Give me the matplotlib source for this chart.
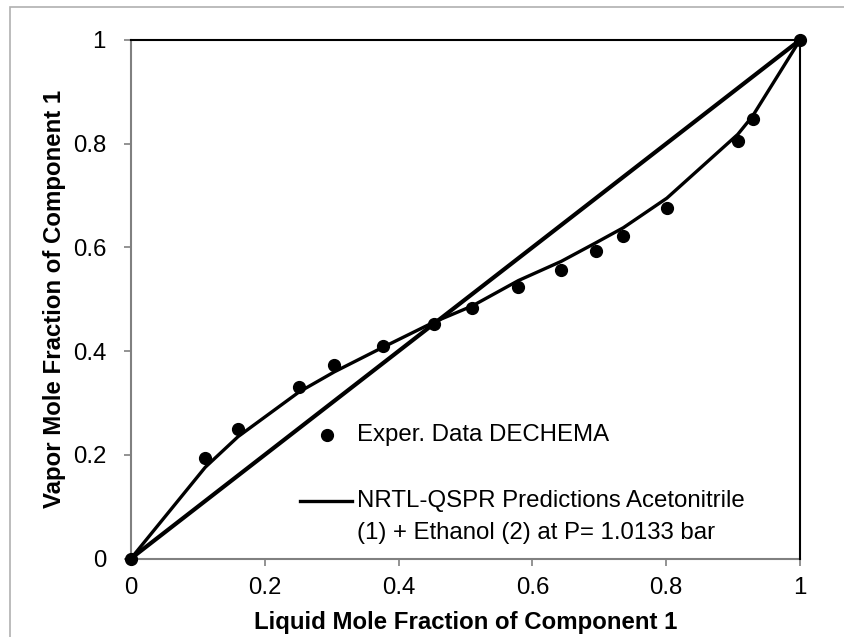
import matplotlib
matplotlib.use("Agg")
import matplotlib.pyplot as plt
from matplotlib.patches import Rectangle

plt.rcParams['font.family'] = ['Liberation Sans', 'DejaVu Sans']

# Experimental data (DECHEMA)
x_exp = [0.0, 0.111, 0.160, 0.251, 0.304, 0.376, 0.453, 0.510, 0.579, 0.643,
         0.695, 0.736, 0.801, 0.907, 0.929, 1.0]
y_exp = [0.0, 0.194, 0.250, 0.331, 0.374, 0.410, 0.452, 0.483, 0.523, 0.557,
         0.594, 0.622, 0.676, 0.805, 0.848, 1.0]

# NRTL-QSPR predictions
x_pred = [0.0, 0.111, 0.160, 0.251, 0.304, 0.376, 0.453, 0.510, 0.579, 0.643,
          0.695, 0.736, 0.801, 0.907, 0.929, 1.0]
y_pred = [0.0, 0.176, 0.235, 0.321, 0.360, 0.407, 0.456, 0.487, 0.536, 0.573,
          0.609, 0.638, 0.695, 0.818, 0.853, 1.0]

# Diagonal x = y
x_diag = [0.0, 1.0]
y_diag = [0.0, 1.0]

ticks = [0, 0.2, 0.4, 0.6, 0.8, 1]
tick_labels = ["0", "0.2", "0.4", "0.6", "0.8", "1"]

FS = 17.3
W, H = 844, 637
fig = plt.figure(figsize=(W / 100, H / 100), dpi=100)

# outer chart border
fig.patches.append(Rectangle((10 / W, -0.1), 2.0, (H - 7) / H + 0.1,
                             transform=fig.transFigure, fill=False,
                             edgecolor='#b0b0b0', linewidth=1.2))

ax = fig.add_axes([131 / W, (H - 558.5) / H, (800 - 131) / W, (558.5 - 40) / H])

ax.plot(x_diag, y_diag, color='black', linewidth=3.0, solid_capstyle='round', zorder=3)
ax.plot(x_pred, y_pred, color='black', linewidth=2.4, zorder=3)
ax.plot(x_exp, y_exp, linestyle='none', marker='o', markersize=8.5,
        color='black', zorder=4, clip_on=False)

ax.set_xlim(0, 1)
ax.set_ylim(0, 1)
ax.set_xticks(ticks)
ax.set_xticklabels(tick_labels)
ax.set_yticks(ticks)
ax.set_yticklabels(tick_labels)

for s in ['left', 'bottom']:
    ax.spines[s].set_color('#808080')
    ax.spines[s].set_linewidth(1.5)
    ax.spines[s].set_zorder(2)
for s in ['top', 'right']:
    ax.spines[s].set_color('black')
    ax.spines[s].set_linewidth(1.5)

ax.tick_params(axis='both', direction='out', length=5, width=1.2,
               color='#808080', labelsize=FS, labelcolor='black')
ax.tick_params(axis='x', pad=8)
ax.tick_params(axis='y', pad=13)

ax.set_xlabel("Liquid Mole Fraction of Component 1", fontsize=FS,
              fontweight='bold', labelpad=9)
ax.set_ylabel("Vapor Mole Fraction of Component 1", fontsize=FS,
              fontweight='bold', labelpad=5)

# legend drawn manually inside the plot area
ax.plot([0.293], [0.238], marker='o', markersize=8.5, color='black',
        transform=ax.transAxes)
ax.text(0.338, 0.238, "Exper. Data DECHEMA", fontsize=FS, va='center',
        ha='left', transform=ax.transAxes)
ax.plot([0.253, 0.331], [0.110, 0.110], color='black', linewidth=2.4,
        transform=ax.transAxes)
ax.text(0.338, 0.110, "NRTL-QSPR Predictions Acetonitrile", fontsize=FS,
        va='center', ha='left', transform=ax.transAxes)
ax.text(0.338, 0.050, "(1) + Ethanol (2) at P= 1.0133 bar", fontsize=FS,
        va='center', ha='left', transform=ax.transAxes)

fig.savefig("out.png", dpi=100)
